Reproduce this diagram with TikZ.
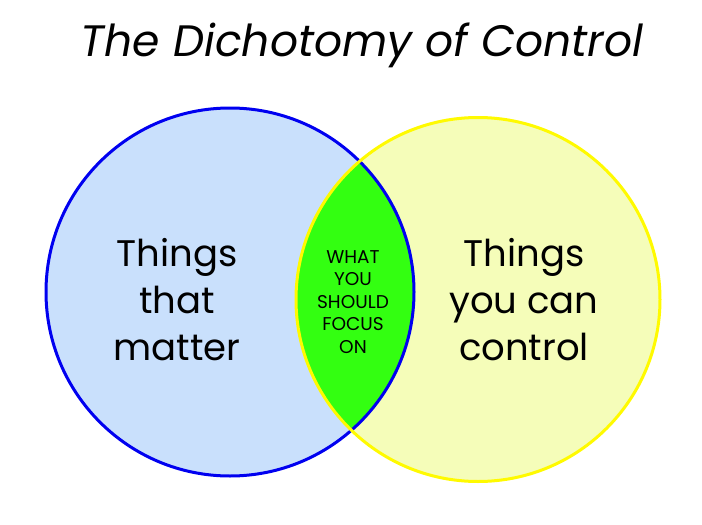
\documentclass[tikz,border=0pt]{standalone}
\usepackage{fontspec}
\setmainfont{Poppins}
\definecolor{matterfill}{RGB}{201,224,252}
\definecolor{controlfill}{RGB}{245,253,185}
\definecolor{focusgreen}{RGB}{51,255,17}
\definecolor{matterline}{RGB}{0,0,240}
\definecolor{controlline}{RGB}{255,250,0}

\begin{document}
\begin{tikzpicture}[x=1pt, y=-1pt,
  bigtext/.style={align=center, font=\fontsize{37}{47}\selectfont, inner sep=0pt},
  smalltext/.style={align=center, font=\fontsize{18.5}{22.5}\selectfont, inner sep=0pt},
]
  \useasboundingbox (0,0) rectangle (702,525);
  \coordinate (cmatter) at (230,292);
  \coordinate (ccontrol) at (478,299.5);
  % the two sets
  \fill[matterfill] (cmatter) circle (184pt);
  \fill[controlfill] (ccontrol) circle (182pt);
  \begin{scope}
    \clip (cmatter) circle (184pt);
    \fill[focusgreen] (ccontrol) circle (182pt);
  \end{scope}
  \draw[matterline, line width=3pt] (cmatter) circle (184pt);
  \draw[controlline, line width=3pt] (ccontrol) circle (182pt);
  % labels
  \node[font=\fontsize{44}{50}\selectfont\itshape] (title) at (362,45) {The Dichotomy of Control};
  \node[bigtext] (matter) at (177,300) {Things\\that\\matter};
  \node[bigtext] (control) at (524,300) {Things\\you can\\control};
  \node[smalltext] (focus) at (353,302) {WHAT\\YOU\\SHOULD\\FOCUS\\ON};
\end{tikzpicture}
\end{document}
